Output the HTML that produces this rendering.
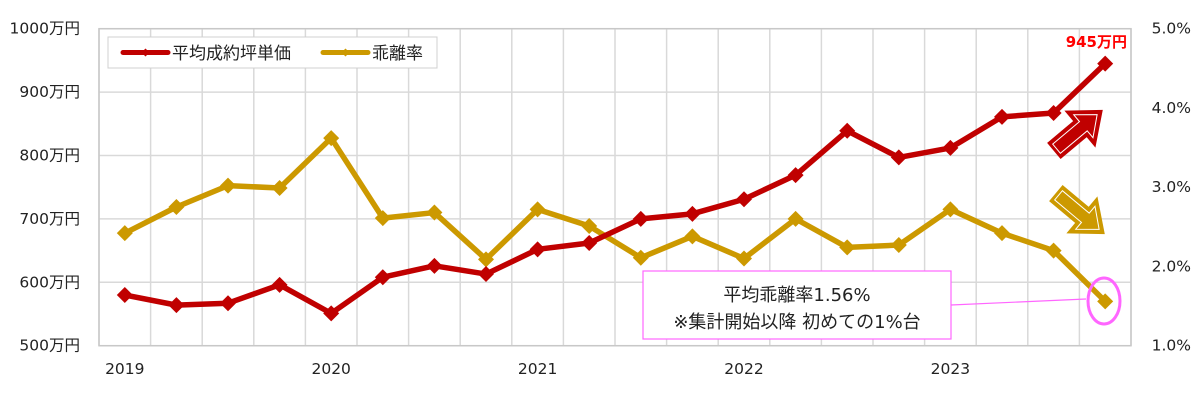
<!DOCTYPE html>
<html><head><meta charset="utf-8">
<style>
body{margin:0;background:#fff;}
svg text{font-family:"DejaVu Sans","Liberation Sans","Noto Sans CJK JP",sans-serif;}
</style></head>
<body>
<svg id="chart" width="1200" height="400" viewBox="0 0 1200 400" xmlns="http://www.w3.org/2000/svg">
<g id="grid"></g>
<g id="axes"></g>
<g id="series"></g>
<g>
<rect x="108" y="37" width="329" height="31" fill="#fff" stroke="#d0d0d0"/>
<g>
<line x1="123" y1="52.5" x2="168" y2="52.5" stroke="#c00000" stroke-width="5" stroke-linecap="round"/>
<path d="M145.5 48.5 L149.5 52.5 L145.5 56.5 L141.5 52.5Z" fill="#c00000"/>
<text x="172" y="59" font-size="17" fill="#222">平均成約坪単価</text></g>
<g>
<line x1="323" y1="52.5" x2="368" y2="52.5" stroke="#cc9900" stroke-width="5" stroke-linecap="round"/>
<path d="M345.5 48.5 L349.5 52.5 L345.5 56.5 L341.5 52.5Z" fill="#cc9900"/>
<text x="372" y="59" font-size="17" fill="#222">乖離率</text></g>
</g>
<text x="1127" y="47" font-size="15" font-weight="bold" fill="#ff0000" text-anchor="end">945万円</text>
<g transform="translate(1055,150) rotate(-40)">
<path d="M0 -9 L34 -9 L34 -21 L60 0 L34 21 L34 9 L0 9 Z" fill="#c00000" stroke="#c00000" stroke-width="3"/>
<path d="M2 -6 L37 -6 L37 -15 L55 0 L37 15 L37 6 L2 6 Z" fill="none" stroke="#fff" stroke-width="1"/></g>
<g transform="translate(1057,194) rotate(40)">
<path d="M0 -9 L34 -9 L34 -21 L60 0 L34 21 L34 9 L0 9 Z" fill="#cc9900" stroke="#cc9900" stroke-width="3"/>
<path d="M2 -6 L37 -6 L37 -15 L55 0 L37 15 L37 6 L2 6 Z" fill="none" stroke="#fff" stroke-width="1"/></g>
<line x1="951" y1="305" x2="1086" y2="299" stroke="#ff66ff" stroke-width="1.2"/>
<g>
<rect x="643" y="271" width="308" height="68" fill="#fff" stroke="#ff66ff" stroke-width="1.2"/>
<text x="797" y="301" font-size="18" fill="#222" text-anchor="middle">平均乖離率1.56%</text>
<text x="797" y="328" font-size="18" fill="#222" text-anchor="middle">※集計開始以降 初めての1%台</text></g>
<ellipse cx="1104" cy="301" rx="16" ry="23" fill="none" stroke="#ff66ff" stroke-width="3"/>
</svg>
<script>
const categories=["2019Q1","2019Q2","2019Q3","2019Q4","2020Q1","2020Q2","2020Q3","2020Q4","2021Q1","2021Q2","2021Q3","2021Q4","2022Q1","2022Q2","2022Q3","2022Q4","2023Q1","2023Q2","2023Q3","2023Q4"];
const priceValues=[580,564,567,596,551,608,626,613,652,662,700,708,731,769,839,797,812,861,867,945];
const rateValues=[2.42,2.75,3.02,2.99,3.62,2.61,2.68,2.09,2.72,2.51,2.11,2.38,2.10,2.60,2.24,2.27,2.72,2.42,2.20,1.56];
const leftTicks=[500,600,700,800,900,1000];
const rightTicks=[1.0,2.0,3.0,4.0,5.0];
const yearLabels=["2019","2020","2021","2022","2023"];

const NS="http://www.w3.org/2000/svg";
const L=99,R=1131,T=28.7,B=345.7;
const step=(R-L)/categories.length;
const xAt=i=>L+step*(i+0.5);
const yL=v=>B-(v-500)/500*(B-T);
const yR=v=>B-(v-1)/4*(B-T);
function mk(tag,attrs,parent){const e=document.createElementNS(NS,tag);for(const k in attrs)e.setAttribute(k,attrs[k]);parent.appendChild(e);return e;}
const grid=document.getElementById('grid'),axes=document.getElementById('axes'),series=document.getElementById('series');
leftTicks.forEach(v=>{
 const ln=mk('line',{x1:L,x2:R,y1:yL(v),y2:yL(v),stroke:'#d9d9d9','stroke-width':1.5},grid);
 
 
 const t=mk('text',{x:80,y:yL(v)+5,'font-size':15.5,fill:'#222','text-anchor':'end'},axes);
 t.textContent=v+'万円';
 
 
});
for(let i=0;i<=categories.length;i++){
 const x=L+step*i;
 const ln=mk('line',{x1:x,x2:x,y1:T,y2:B,stroke:'#d9d9d9','stroke-width':1.5},grid);
 
 
}
const frame=mk('rect',{x:L,y:T,width:R-L,height:B-T,fill:'none',stroke:'#c8c8c8','stroke-width':1.5},grid);


rightTicks.forEach(v=>{
 const t=mk('text',{x:1191,y:yR(v)+5,'font-size':15.5,fill:'#222','text-anchor':'end'},axes);
 t.textContent=v.toFixed(1)+'%';
 
 
});
yearLabels.forEach((y,k)=>{
 const t=mk('text',{x:xAt(k*4),y:374,'font-size':15.5,fill:'#222','text-anchor':'middle'},axes);
 t.textContent=y;
 
 
});
function drawSeries(vals,yf,color,name){
 const pts=vals.map((v,i)=>xAt(i)+','+yf(v)).join(' ');
 const pl=mk('polyline',{points:pts,fill:'none',stroke:color,'stroke-width':5.5,'stroke-linejoin':'round'},series);
 
 
 vals.forEach((v,i)=>{
  const x=xAt(i),y=yf(v),s=8;
  const p=mk('path',{d:`M${x} ${y-s} L${x+s} ${y} L${x} ${y+s} L${x-s} ${y}Z`,fill:color},series);
  
  
 });
}
drawSeries(rateValues,yR,'#cc9900','discount-rate');
drawSeries(priceValues,yL,'#c00000','price');
</script>
</body></html>
